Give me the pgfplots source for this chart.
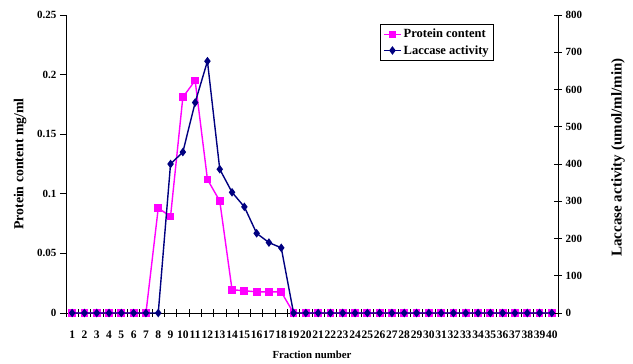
\documentclass[border=0pt]{standalone}
\usepackage{pgfplots}
\pgfplotsset{compat=1.18}
\usepackage{fontspec}
\setmainfont{Liberation Serif}
\definecolor{pmag}{RGB}{255,0,255}
\definecolor{lnavy}{RGB}{0,0,128}
\begin{document}
\begin{tikzpicture}
\useasboundingbox (-66pt,-51pt) rectangle (567pt,313pt);
\pgfplotsset{
  common/.style={
    scale only axis, width=492pt, height=298pt,
    xmin=0.5, xmax=40.5, clip=false,
    /pgf/number format/assume math mode=true,
    tick label style={font=\bfseries\fontsize{11}{12}\selectfont},
    xlabel style={font=\bfseries\fontsize{10.8}{12}\selectfont},
    axis line style={black, line width=0.6pt},
    every tick/.style={black, line width=0.6pt},
  }
}
\begin{axis}[common,
  axis x line*=bottom, axis y line*=left,
  ymin=0, ymax=0.25,
  ytick={0,0.05,0.1,0.15,0.2,0.25},
  yticklabels={0,0.05,0.1,0.15,0.2,0.25},
  ytick align=outside, major tick length=6pt, minor tick length=8pt,
  xtick={1,...,40},
  xticklabels={1,2,3,4,5,6,7,8,9,10,11,12,13,14,15,16,17,18,19,20,21,22,23,24,25,26,27,28,29,30,31,32,33,34,35,36,37,38,39,40},
  x tick label style={yshift=-11pt, inner xsep=0pt, font=\bfseries\fontsize{11.5}{12}\selectfont},
  minor xtick={0.5,1.5,...,40.5},
  xtick align=center,
  every major x tick/.append style={draw=none},
  xlabel={Fraction number},
  xlabel style={at={(axis description cs:0.5,-0.141)}, anchor=center},
  ylabel={Protein content mg/ml},
  ylabel style={at={(axis description cs:-0.0935,0.5)}, anchor=center, font=\bfseries\fontsize{13.8}{15}\selectfont},
]
\addplot[pmag, line width=1.4pt, mark=square*, mark size=3.2pt, mark options={solid}]
coordinates {(1,0)(2,0)(3,0)(4,0)(5,0)(6,0)(7,0)(8,0.088)(9,0.081)(10,0.181)(11,0.195)(12,0.112)(13,0.094)(14,0.0195)(15,0.0187)(16,0.0177)(17,0.0177)(18,0.0177)(19,0)(20,0)(21,0)(22,0)(23,0)(24,0)(25,0)(26,0)(27,0)(28,0)(29,0)(30,0)(31,0)(32,0)(33,0)(34,0)(35,0)(36,0)(37,0)(38,0)(39,0)(40,0)};
\end{axis}
\begin{axis}[common,
  axis y line*=right, hide x axis,
  ymin=0, ymax=800,
  ytick={0,100,...,800},
  ytick align=center, major tick length=8pt,
  ylabel={Laccase activity (umol/ml/min)},
  ylabel style={at={(axis description cs:1.122,0.522)}, anchor=center, rotate=0, font=\bfseries\fontsize{15}{16}\selectfont},
  legend style={at={(axis description cs:0.870,0.970)}, anchor=north east,
    draw=black, line width=0.6pt, fill=white,
    font=\bfseries\fontsize{12.5}{14}\selectfont,
    inner xsep=3pt, inner ysep=3pt, row sep=2pt},
  legend cell align=left,
]
\addlegendimage{pmag, line width=1.4pt, mark=square*, mark size=3pt}
\addlegendentry{Protein content}
\addplot[lnavy, line width=1.4pt, mark=diamond*, mark size=3.2pt, mark options={solid}]
coordinates {(1,0)(2,0)(3,0)(4,0)(5,0)(6,0)(7,0)(8,0)(9,400)(10,432)(11,565)(12,676)(13,386)(14,324)(15,285)(16,214)(17,189)(18,175)(19,0)(20,0)(21,0)(22,0)(23,0)(24,0)(25,0)(26,0)(27,0)(28,0)(29,0)(30,0)(31,0)(32,0)(33,0)(34,0)(35,0)(36,0)(37,0)(38,0)(39,0)(40,0)};
\addlegendentry{Laccase activity}
\end{axis}
\end{tikzpicture}
\end{document}
